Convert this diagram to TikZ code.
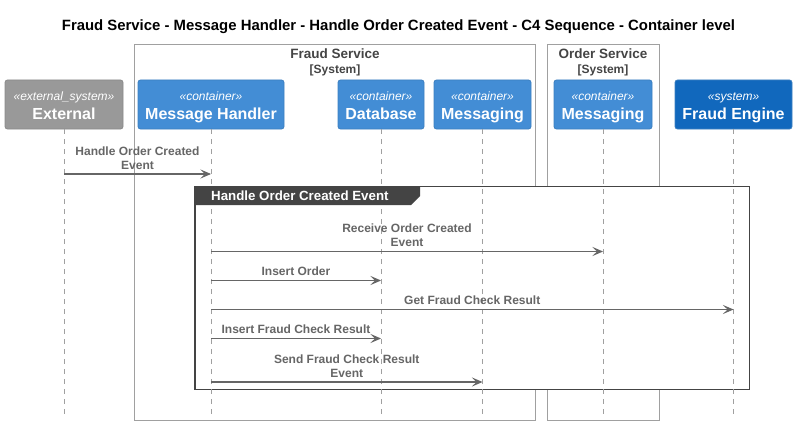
\documentclass[tikz,border=0pt]{standalone}
\usepackage{fontspec}
\setmainfont{Liberation Sans}
\usetikzlibrary{arrows.meta}
\definecolor{contfill}{HTML}{438DD5}
\definecolor{contline}{HTML}{3C7FC0}
\definecolor{sysfill}{HTML}{1168BD}
\definecolor{extfill}{HTML}{999999}
\definecolor{extline}{HTML}{8A8A8A}
\definecolor{lblgray}{HTML}{666666}
\definecolor{bndgray}{HTML}{A0A0A0}
\definecolor{bndtext}{HTML}{444444}
\definecolor{grpdark}{HTML}{444444}
\tikzset{
  partbox/.style={rounded corners=2.5pt, line width=0.8pt, minimum height=49pt, inner sep=0pt},
  contbox/.style={partbox, fill=contfill, draw=contline},
  sysbox/.style={partbox, fill=sysfill, draw=contline},
  extbox/.style={partbox, fill=extfill, draw=extline},
  stereo/.style={anchor=base, inner sep=0pt, text=white, font=\fontsize{12}{14}\selectfont\itshape},
  pname/.style={anchor=base, inner sep=0pt, text=white, font=\fontsize{16}{19}\selectfont\bfseries},
  life/.style={draw=bndgray, line width=0.8pt, dash pattern=on 5pt off 5pt},
  boundary/.style={draw=bndgray, line width=0.9pt},
  msg/.style={draw=lblgray, line width=1.1pt, -{Stealth[length=10.5pt, width=9pt, inset=4.5pt]}},
  msglbl/.style={anchor=south, inner sep=0pt, align=center, text=lblgray, font=\fontsize{12}{14}\selectfont\bfseries},
  bndlbl/.style={anchor=base, inner sep=0pt, text=bndtext, font=\bfseries},
}
\begin{document}
\begin{tikzpicture}[x=1pt, y=-1pt]
\useasboundingbox (0,0) rectangle (797,425);
% title
\node[anchor=base, inner sep=0pt, font=\fontsize{14.9}{17}\selectfont\bfseries] (title) at (398.5,30.5) {Fraud Service - Message Handler - Handle Order Created Event - C4 Sequence - Container level};
% boundaries
\draw[boundary] (134.5,44.5) rectangle (535.5,420.5);
\draw[boundary] (547.5,44.5) rectangle (659.5,420.5);
\node[bndlbl, font=\fontsize{13.5}{16}\selectfont\bfseries] (fslbl) at (335,58.5) {Fraud Service};
\node[bndlbl, font=\fontsize{12}{14}\selectfont\bfseries] (fssys) at (335,74) {[System]};
\node[bndlbl, font=\fontsize{13.5}{16}\selectfont\bfseries] (oslbl) at (603,58.5) {Order Service};
\node[bndlbl, font=\fontsize{12}{14}\selectfont\bfseries] (ossys) at (603,74) {[System]};
% group box (white fill hides boundary lines)
\draw[draw=grpdark, line width=1.4pt, fill=white] (195,186.5) rectangle (749.5,389.5);
% participants
\node[extbox, minimum width=118pt] (ext) at (64,104.5) {};
\node[contbox, minimum width=146pt] (mh) at (211,104.5) {};
\node[contbox, minimum width=86pt] (db) at (381,104.5) {};
\node[contbox, minimum width=97pt] (fmq) at (482.5,104.5) {};
\node[contbox, minimum width=98pt] (omq) at (603,104.5) {};
\node[sysbox, minimum width=117pt] (fe) at (733.5,104.5) {};
\foreach \p/\s/\n in {ext/external\_system/External, mh/container/Message Handler, db/container/Database, fmq/container/Messaging, omq/container/Messaging, fe/system/Fraud Engine}{
  \node[stereo] (\p-st) at (\p.center |- 0,100.5) {«\s»};
  \node[pname] (\p-nm) at (\p.center |- 0,119.5) {\n};
}
% lifelines
\coordinate (bot) at (0,415);
\foreach \p in {ext,mh,db,fmq,omq,fe}{
  \draw[life] (\p.south) -- (\p.south |- bot);
}
% group header tab
\fill[grpdark] (195,186.5) -- (420,186.5) -- (420,196) -- (411,205) -- (195,205) -- cycle;
\node[anchor=west, inner sep=0pt, text=white, font=\fontsize{13.3}{15}\selectfont\bfseries] (grplbl) at (211,196) {Handle Order Created Event};
% message rows
\coordinate (r1) at (0,174);
\coordinate (r2) at (0,251.5);
\coordinate (r3) at (0,280.5);
\coordinate (r4) at (0,309.5);
\coordinate (r5) at (0,338.5);
\coordinate (r6) at (0,382);
\draw[msg] (ext.south |- r1) -- node[msglbl, yshift=4pt] (l1) {Handle Order Created\\Event} (mh.south |- r1);
\draw[msg] (mh.south |- r2) -- node[msglbl, yshift=4pt] (l2) {Receive Order Created\\Event} (omq.south |- r2);
\draw[msg] (mh.south |- r3) -- node[msglbl, yshift=4.5pt] (l3) {Insert Order} (db.south |- r3);
\draw[msg] (mh.south |- r4) -- node[msglbl, yshift=4.5pt] (l4) {Get Fraud Check Result} (fe.south |- r4);
\draw[msg] (mh.south |- r5) -- node[msglbl, yshift=4.5pt] (l5) {Insert Fraud Check Result} (db.south |- r5);
\draw[msg] (mh.south |- r6) -- node[msglbl, yshift=4pt] (l6) {Send Fraud Check Result\\Event} (fmq.south |- r6);
\end{tikzpicture}
\end{document}
